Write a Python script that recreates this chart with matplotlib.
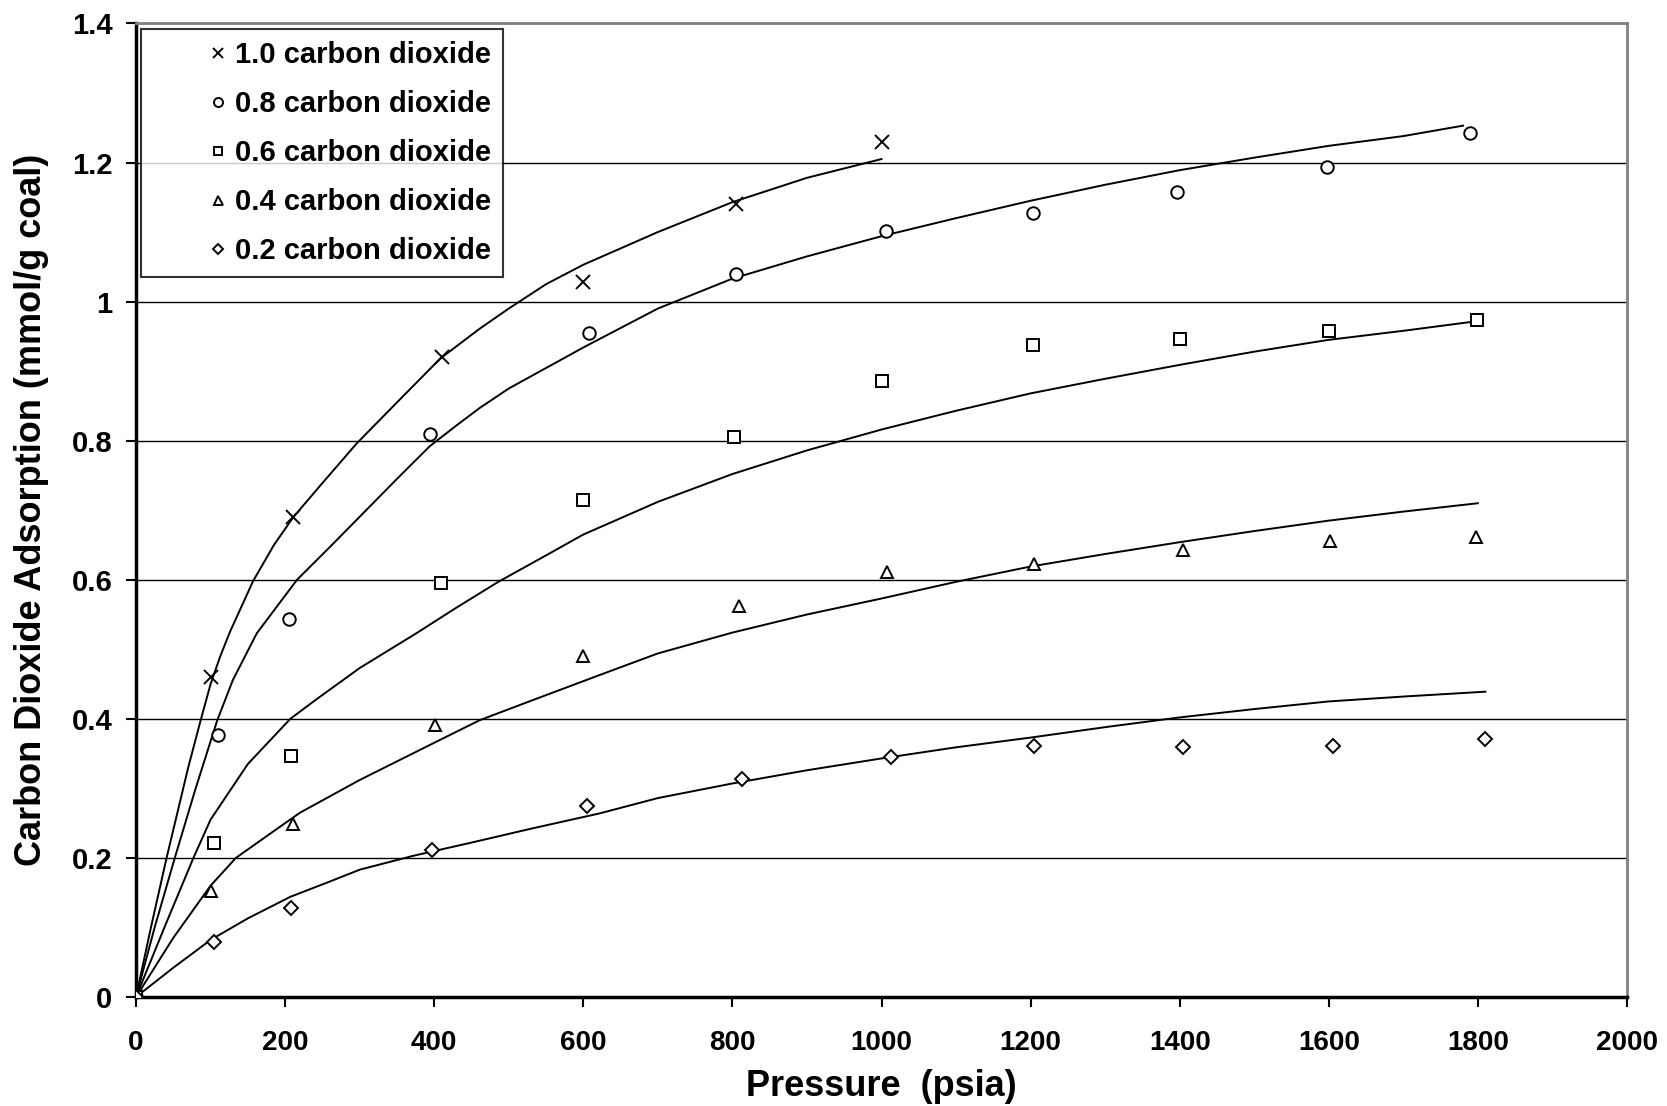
import numpy as np
import matplotlib.pyplot as plt
from matplotlib.legend_handler import HandlerLine2D

plt.rcParams['font.family'] = ['Liberation Sans', 'DejaVu Sans']
plt.rcParams['font.weight'] = 'bold'

# measured points (pressure psia, adsorption mmol/g)
p10 = [0, 100, 210, 410, 600, 805, 1000]
q10 = [0, 0.46, 0.69, 0.92, 1.028, 1.14, 1.23]
p08 = [0, 110, 205, 395, 608, 805, 1006, 1203, 1397, 1598, 1789]
q08 = [0, 0.376, 0.543, 0.81, 0.955, 1.039, 1.102, 1.127, 1.158, 1.194, 1.242]
p06 = [0, 105, 208, 409, 600, 802, 1001, 1203, 1401, 1600, 1799]
q06 = [0, 0.221, 0.347, 0.595, 0.715, 0.805, 0.886, 0.937, 0.946, 0.957, 0.974]
p04 = [0, 100, 211, 401, 600, 809, 1007, 1205, 1405, 1602, 1797]
q04 = [0, 0.153, 0.249, 0.391, 0.49, 0.562, 0.611, 0.623, 0.643, 0.656, 0.662]
p02 = [0, 105, 208, 397, 605, 813, 1013, 1205, 1405, 1606, 1810]
q02 = [0, 0.079, 0.128, 0.211, 0.275, 0.313, 0.345, 0.361, 0.359, 0.361, 0.371]

# model curves
cx10 = [0, 20, 41, 70, 86, 100, 113, 126, 157, 185, 211, 250, 296, 350, 408, 461, 500, 550, 600,
        700, 800, 900, 1000]
cy10 = [0, 0.1, 0.2, 0.33, 0.395, 0.45, 0.49, 0.525, 0.598, 0.65, 0.69, 0.739, 0.796, 0.855, 0.918,
        0.961, 0.99, 1.025, 1.053, 1.1, 1.143, 1.178, 1.205]
cx08 = [0, 25, 52, 80, 109, 130, 162, 216, 260, 305, 350, 394, 430, 461, 500, 600, 700, 800, 900,
        1000, 1100, 1200, 1300, 1400, 1500, 1600, 1700, 1780]
cy08 = [0, 0.1, 0.2, 0.3, 0.398, 0.456, 0.523, 0.6, 0.647, 0.696, 0.745, 0.792, 0.822, 0.847, 0.875,
        0.934, 0.99, 1.033, 1.065, 1.094, 1.12, 1.145, 1.168, 1.189, 1.207, 1.224, 1.238, 1.253]
cx06 = [0, 40, 77, 100, 150, 207, 242, 300, 376, 430, 486, 555, 600, 700, 800, 900, 1000, 1100,
        1200, 1300, 1400, 1500, 1600, 1700, 1800]
cy06 = [0, 0.105, 0.2, 0.255, 0.335, 0.4, 0.428, 0.473, 0.523, 0.56, 0.597, 0.638, 0.665, 0.712,
        0.752, 0.786, 0.816, 0.843, 0.868, 0.889, 0.909, 0.928, 0.945, 0.958, 0.972]
cx04 = [0, 50, 100, 134, 200, 220, 300, 399, 461, 530, 622, 700, 800, 900, 1000, 1100, 1200, 1300,
        1400, 1500, 1600, 1700, 1800]
cy04 = [0, 0.085, 0.16, 0.2, 0.25, 0.265, 0.312, 0.365, 0.398, 0.426, 0.463, 0.494, 0.524, 0.55,
        0.573, 0.597, 0.619, 0.637, 0.654, 0.67, 0.685, 0.698, 0.71]
cx02 = [0, 50, 100, 150, 207, 260, 300, 372, 450, 530, 622, 700, 800, 900, 1000, 1100, 1200, 1300,
        1400, 1500, 1600, 1700, 1810]
cy02 = [0, 0.042, 0.082, 0.113, 0.144, 0.166, 0.183, 0.203, 0.222, 0.242, 0.264, 0.286, 0.307, 0.326,
        0.343, 0.359, 0.373, 0.388, 0.402, 0.414, 0.425, 0.432, 0.439]

labels = ['1.0 carbon dioxide', '0.8 carbon dioxide', '0.6 carbon dioxide',
          '0.4 carbon dioxide', '0.2 carbon dioxide']


class RightMarker(HandlerLine2D):
    # single marker sits in the middle of xdata, so shift the span to the right end
    def get_xdata(self, legend, xdescent, ydescent, width, height, fontsize):
        right = -xdescent + width
        xd = [right - 0.6 * fontsize, right]
        return xd, [right - 0.3 * fontsize]


fig = plt.figure(figsize=(16.67, 11.06), dpi=100)
ax = fig.add_axes([0.0816, 0.0986, 0.8944, 0.8802])

for cx, cy in [(cx10, cy10), (cx08, cy08), (cx06, cy06), (cx04, cy04), (cx02, cy02)]:
    ax.plot(cx, cy, color='black', lw=1.4, zorder=3)

mk = [('x', 10), ('o', 9), ('s', 8.5), ('^', 9), ('D', 7)]
handles = []
for (p, q), (m, s), lab in zip([(p10, q10), (p08, q08), (p06, q06), (p04, q04), (p02, q02)], mk, labels):
    h, = ax.plot(p, q, linestyle='none', marker=m, markersize=s, markerfacecolor='white',
                 markeredgecolor='black', markeredgewidth=1.4, color='black', label=lab, zorder=4)
    handles.append(h)

ax.set_xlim(0, 2000)
ax.set_ylim(0, 1.4)
ax.set_xticks(np.arange(0, 2001, 200))
ax.set_yticks(np.arange(0, 1.41, 0.2))
ax.set_yticklabels(['0', '0.2', '0.4', '0.6', '0.8', '1', '1.2', '1.4'])
ax.yaxis.grid(True, color='black', lw=1.0)
ax.set_axisbelow(True)

ax.tick_params(axis='both', width=1.5, direction='out', length=7)
ax.tick_params(axis='x', labelsize=20, pad=17)
ax.tick_params(axis='y', labelsize=21, pad=10)
for t in ax.get_xticklabels() + ax.get_yticklabels():
    t.set_fontweight('bold')

ax.spines['left'].set_linewidth(2.5)
ax.spines['bottom'].set_linewidth(2.5)
for s in ['top', 'right']:
    ax.spines[s].set_color('#808080')
    ax.spines[s].set_linewidth(2)

ax.set_xlabel('Pressure  (psia)', fontsize=26, fontweight='bold', labelpad=9)
ax.set_ylabel('Carbon Dioxide Adsorption (mmol/g coal)', fontsize=26, fontweight='bold', labelpad=16)

leg = ax.legend(handles=handles, loc='upper left', bbox_to_anchor=(0.0034, 0.9946), borderaxespad=0,
                fontsize=21, frameon=True, fancybox=False, edgecolor='black',
                handlelength=2.5, handletextpad=0.3, markerscale=0.72, labelspacing=0.72,
                borderpad=0.42, handler_map={h: RightMarker() for h in handles})
leg.get_frame().set_linewidth(1.5)
for t in leg.get_texts():
    t.set_fontweight('bold')

fig.savefig('out.png', dpi=100)
